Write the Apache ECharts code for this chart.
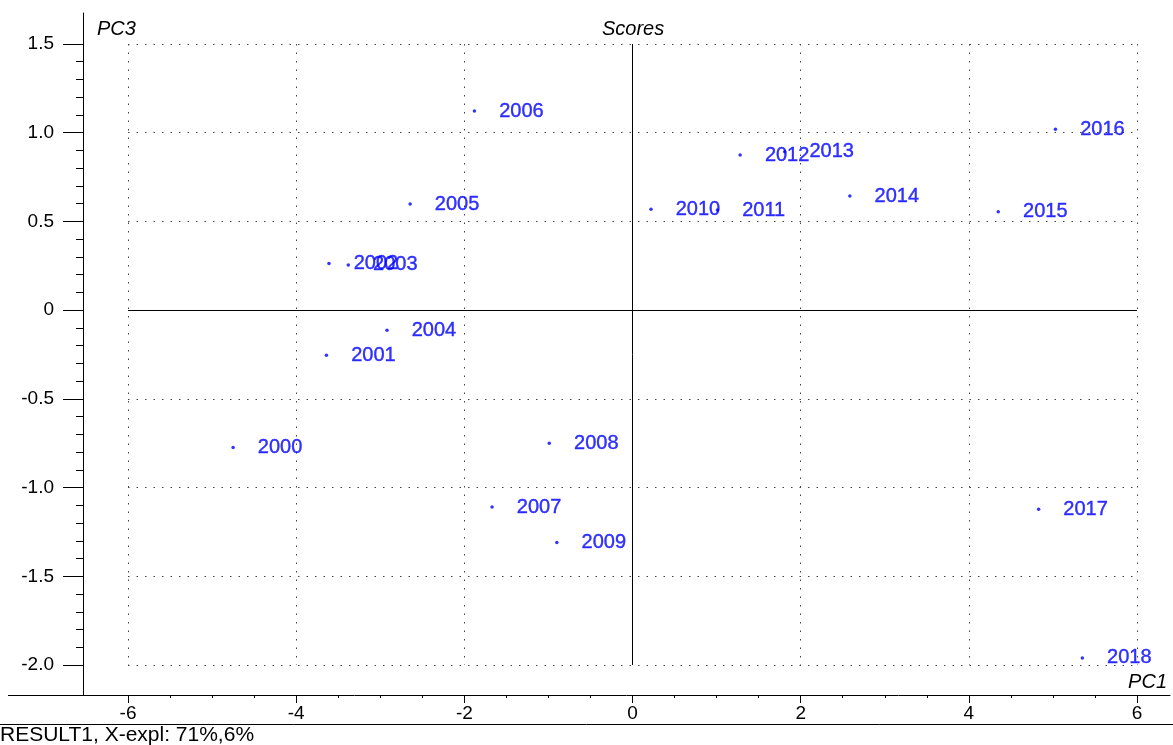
<!DOCTYPE html>
<html>
<head>
<meta charset="utf-8">
<title>Scores</title>
<script src="https://cdn.jsdelivr.net/npm/echarts@6/dist/echarts.min.js"></script>
<style>
  html, body { margin: 0; padding: 0; background: #fff; }
  #chart { width: 1173px; height: 745px; }
</style>
</head>
<body>
<div id="chart"></div>
<script>
// PCA scores: sample names with their PC1 / PC3 coordinates
const years = ['2000','2001','2002','2003','2004','2005','2006','2007','2008','2009',
               '2010','2011','2012','2013','2014','2015','2016','2017','2018'];
const pc1 = [-4.75, -3.64, -3.61, -3.38, -2.92, -2.645, -1.88, -1.67, -0.99, -0.90,
             0.22, 1.01, 1.28, 1.81, 2.585, 4.35, 5.03, 4.83, 5.35];
const pc3 = [-0.774, -0.254, 0.263, 0.255, -0.113, 0.598, 1.122, -1.11, -0.75, -1.31,
             0.569, 0.564, 0.874, 0.893, 0.643, 0.554, 1.020, -1.122, -1.96];

// Axis ranges and tick steps
const xRange = [-6, 6], xStep = 2;
const yRange = [-2, 1.5], yStep = 0.5;

const FONT = '"Liberation Sans", Arial, sans-serif';
const points = years.map((y, i) => ({ name: y, value: [pc1[i], pc3[i]] }));

const italic = { fontFamily: FONT, fontSize: 20, fontStyle: 'italic', fontWeight: 'normal', color: '#000' };

const chart = echarts.init(document.getElementById('chart'), null, { renderer: 'canvas' });
chart.setOption({
  animation: false,
  backgroundColor: '#ffffff',
  title: [
    { text: 'Scores', left: 602, top: 19, padding: 0, textStyle: italic },
    { text: 'PC3', left: 97, top: 19, padding: 0, textStyle: italic },
    { text: 'PC1', right: 6, top: 672, padding: 0, textStyle: italic },
    { text: 'RESULT1, X-expl: 71%,6%', left: 0, top: 725, padding: 0,
      textStyle: { fontFamily: FONT, fontSize: 21, fontWeight: 'normal', color: '#000' } }
  ],
  grid: [
    // frame holding the two axis lines
    { left: 83, right: 3, top: 13, bottom: 50, containLabel: false },
    // data area spanning the tick range
    { left: 128, right: 36, top: 44, bottom: 80, containLabel: false }
  ],
  xAxis: [
    { gridIndex: 0, type: 'value', min: 0, max: 1, show: true,
      axisLine: { show: true, onZero: false, lineStyle: { color: '#000', width: 1 } },
      axisTick: { show: false }, axisLabel: { show: false }, splitLine: { show: false } },
    { gridIndex: 1, type: 'value', min: xRange[0], max: xRange[1], interval: xStep, offset: 30,
      axisLine: { show: false, onZero: false },
      axisTick: { show: true, length: 8, lineStyle: { color: '#000' } },
      minorTick: { show: true, splitNumber: 4, length: 3, lineStyle: { color: '#000' } },
      axisLabel: { margin: 9, color: '#000', fontFamily: FONT, fontSize: 19 },
      splitLine: { show: true, lineStyle: { color: '#444', width: 1, type: [1.5, 7] } } }
  ],
  yAxis: [
    { gridIndex: 0, type: 'value', min: 0, max: 1, show: true,
      axisLine: { show: true, onZero: false, lineStyle: { color: '#000', width: 1 } },
      axisTick: { show: false }, axisLabel: { show: false }, splitLine: { show: false } },
    { gridIndex: 1, type: 'value', min: yRange[0], max: yRange[1], interval: yStep, offset: 45,
      axisLine: { show: false, onZero: false },
      axisTick: { show: true, length: 20, lineStyle: { color: '#000' } },
      minorTick: { show: true, splitNumber: 5, length: 7, lineStyle: { color: '#000' } },
      axisLabel: { margin: 29, color: '#000', fontFamily: FONT, fontSize: 19,
                   formatter: v => (v === 0 ? '0' : v.toFixed(1)) },
      splitLine: { show: true, lineStyle: { color: '#444', width: 1, type: [1.5, 7] } } }
  ],
  graphic: [
    // stub of the horizontal axis left of the vertical axis, and the footer rule
    { type: 'line', shape: { x1: 8, y1: 695.5, x2: 83, y2: 695.5 }, style: { stroke: '#000', lineWidth: 1 }, silent: true },
    { type: 'line', shape: { x1: 0, y1: 724.5, x2: 1173, y2: 724.5 }, style: { stroke: '#000', lineWidth: 1 }, silent: true }
  ],
  series: [{
    type: 'scatter',
    xAxisIndex: 1, yAxisIndex: 1,
    data: points,
    symbol: 'circle',
    symbolSize: 3.5,
    itemStyle: { color: '#0000ff' },
    label: {
      show: true, position: 'right', distance: 23,
      formatter: p => p.name,
      color: '#0000ff', fontFamily: FONT, fontSize: 20,
      textBorderColor: '#0000ff', textBorderWidth: 0.4
    },
    labelLayout: { hideOverlap: false },
    markLine: {
      silent: true, symbol: 'none', animation: false,
      label: { show: false },
      lineStyle: { color: '#000', width: 1, type: 'solid' },
      data: [{ xAxis: 0 }, { yAxis: 0 }]
    }
  }]
});
</script>
</body>
</html>
